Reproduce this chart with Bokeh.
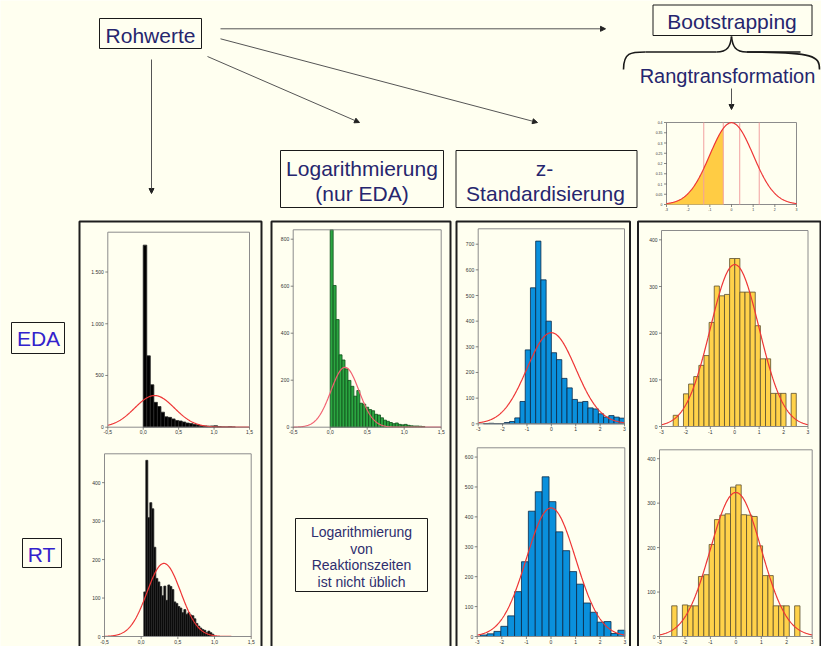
import numpy as np
from bokeh.plotting import figure
from bokeh.models import Range1d, Arrow, NormalHead
from bokeh.core.properties import value
from bokeh.embed import file_html
from bokeh.resources import INLINE

# ---------------- data ----------------
# EDA raw values (black)
eda_raw_start = 0.0
eda_raw_width = 0.05
eda_raw_counts = [1760, 690, 410, 240, 200, 145, 100, 95, 80, 65, 60, 50, 40, 35,
                  28, 22, 15, 12, 10, 12, 14, 5, 3, 2, 4, 2]
eda_raw_fit = [0.16, 0.28, 306]          # mean, sd, peak count

# EDA logarithmised (green)
eda_log_start = 0.0
eda_log_width = 0.04
eda_log_counts = [840, 603, 458, 308, 286, 248, 199, 174, 132, 156, 102, 98, 85, 75,
                  70, 55, 52, 40, 30, 25, 20, 15, 18, 12, 10, 12, 8, 6, 5, 5, 4, 3]
eda_log_fit = [0.20, 0.19, 255]

# EDA z-standardised (blue)
eda_z_start = -3.0
eda_z_width = 6 / 28
eda_z_counts = [0, 1, 2, 1, 1, 5, 9, 23, 87, 288, 530, 712, 561, 400, 277, 250, 177,
                140, 95, 84, 87, 62, 58, 39, 26, 32, 26, 22]
eda_z_fit = [0.0, 1.0, 355]

# EDA rank transformed (yellow)
eda_rank_start = -2.52
eda_rank_width = 0.21
eda_rank_counts = [24, 0, 70, 91, 107, 131, 152, 223, 301, 280, 283, 360, 360, 288,
                   288, 288, 216, 145, 145, 71, 71, 71, 0, 71]
eda_rank_fit = [0.0, 1.0, 347]

# RT raw values (black)
rt_raw_start = 0.036
rt_raw_width = 0.0273
rt_raw_counts = [116, 458, 309, 348, 332, 232, 151, 142, 130, 106, 131, 94, 134, 130,
                 122, 90, 86, 78, 74, 62, 70, 58, 62, 56, 54, 46, 34, 27, 22, 18, 16,
                 10, 14, 10, 6]
rt_raw_fit = [0.31, 0.23, 190]

# RT z-standardised (blue)
rt_z_start = -2.88
rt_z_width = 0.28
rt_z_counts = [5, 9, 17, 34, 69, 150, 250, 419, 484, 534, 451, 350, 287, 217, 175,
               112, 81, 48, 50, 10, 21]
rt_z_fit = [0.0, 1.0, 430]

# RT rank transformed (yellow)
rt_rank_start = -2.52
rt_rank_width = 0.21
rt_rank_counts = [69, 0, 71, 69, 69, 135, 139, 207, 263, 273, 276, 336, 341, 274, 273,
                  270, 204, 137, 137, 69, 69, 69, 0, 69]
rt_rank_fit = [0.0, 1.0, 324]

# schematic normal curve (rank transformation)
norm_fill_to = -0.38
norm_cut_lines = [-1.28, -0.38, 0.38, 1.28]

# tick labels
raw_xticks = [-0.5, 0.0, 0.5, 1.0, 1.5]
raw_xlabels = ["-0,5", "0,0", "0,5", "1,0", "1,5"]
z_xticks = [-3, -2, -1, 0, 1, 2, 3]
z_xlabels = ["-3", "-2", "-1", "0", "1", "2", "3"]
eda_raw_yticks = [0, 500, 1000, 1500]
eda_raw_ylabels = ["0", "500", "1.000", "1.500"]
eda_log_yticks = [0, 200, 400, 600, 800]
eda_z_yticks = [0, 100, 200, 300, 400, 500, 600, 700]
eda_rank_yticks = [0, 100, 200, 300, 400]
rt_raw_yticks = [0, 100, 200, 300, 400]
rt_z_yticks = [0, 100, 200, 300, 400, 500, 600]
rt_rank_yticks = [0, 100, 200, 300, 400]
norm_yticks = [0, 0.05, 0.1, 0.15, 0.2, 0.25, 0.3, 0.35, 0.4]
norm_ylabels = ["0", "0.05", "0.1", "0.15", "0.2", "0.25", "0.3", "0.35", "0.4"]

# ---------------- styles ----------------
BG = "#FFFFF0"
FONT = value("Liberation Sans")
NAVY = "#26266E"
RED = "#EE3535"
FRAME = "#8C8C8C"

p = figure(width=821, height=646, x_range=Range1d(0, 821), y_range=Range1d(646, 0),
           output_backend="svg", toolbar_location=None, min_border=0,
           x_axis_location=None, y_axis_location=None)
p.xgrid.visible = False
p.ygrid.visible = False
p.outline_line_color = None
p.background_fill_color = BG
p.border_fill_color = BG


def panel(box, xr, yr, start=None, width=None, counts=None, fill=None, line=None,
          fit=None, xticks=(), xlabels=(), yticks=(), ylabels=None, fs="5px",
          fit_color=RED):
    x0, x1, ybot, ytop = box
    sub = p.subplot(x_source=Range1d(*xr), y_source=Range1d(*yr),
                    x_target=Range1d(x0, x1), y_target=Range1d(ybot, ytop))
    if counts is not None:
        n = len(counts)
        edges = start + width * np.arange(n + 1)
        c = np.array(counts, dtype=float)
        keep = c > 0
        sub.quad(left=edges[:-1][keep], right=edges[1:][keep], bottom=0, top=c[keep],
                 fill_color=fill, line_color=line, line_width=0.8)
    if fit is not None:
        mu, sd, pk = fit
        xs = np.linspace(xr[0], xr[1], 300)
        sub.line(xs, pk * np.exp(-0.5 * ((xs - mu) / sd) ** 2), line_color=fit_color,
                 line_width=1.2)
    # frame
    sub.quad(left=[xr[0]], right=[xr[1]], bottom=[yr[0]], top=[yr[1]],
             fill_color=None, line_color=FRAME, line_width=1)
    sx = (x1 - x0) / (xr[1] - xr[0])
    sy = (ybot - ytop) / (yr[1] - yr[0])
    dx, dy = 2.5 / sx, 2.5 / sy
    if ylabels is None:
        ylabels = [str(t) for t in yticks]
    sub.segment(x0=[xr[0] - dx] * len(yticks), x1=[xr[0]] * len(yticks),
                y0=list(yticks), y1=list(yticks), line_color="#555", line_width=0.7)
    sub.segment(x0=list(xticks), x1=list(xticks), y0=[yr[0]] * len(xticks),
                y1=[yr[0] - dy] * len(xticks), line_color="#555", line_width=0.7)
    sub.text(x=[xr[0]] * len(yticks), y=list(yticks), text=list(ylabels), x_offset=-4,
             text_align="right", text_baseline="middle", text_font_size=fs,
             text_color="#333", text_font=FONT)
    sub.text(x=list(xticks), y=[yr[0]] * len(xticks), text=list(xlabels), y_offset=3,
             text_align="center", text_baseline="top", text_font_size=fs,
             text_color="#333", text_font=FONT)
    return sub


# ---- big column boxes ----
for l, r in [(79, 261), (271, 450), (456, 629.5), (637.5, 820)]:
    p.quad(left=[l], right=[r], top=[221], bottom=[720], fill_color=None,
           line_color="#1E1E1E", line_width=2)

# ---- histograms ----
panel((107.3, 249, 426.7, 231.7), (-0.5, 1.5), (0, 1885), eda_raw_start, eda_raw_width,
      eda_raw_counts, "black", "#2A2A2A", eda_raw_fit, raw_xticks, raw_xlabels,
      eda_raw_yticks, eda_raw_ylabels)
panel((292.7, 440.7, 426.7, 229.3), (-0.5, 1.5), (0, 840), eda_log_start, eda_log_width,
      eda_log_counts, "#2BA641", "#0F4E1A", eda_log_fit, raw_xticks, raw_xlabels,
      eda_log_yticks, fit_color="#F26070")
panel((477.7, 624, 423.3, 228.3), (-3, 3), (0, 760), eda_z_start, eda_z_width,
      eda_z_counts, "#0A90DC", "#0B2A48", eda_z_fit, z_xticks, z_xlabels, eda_z_yticks)
panel((661, 807.5, 426, 230), (-3, 3), (0, 420), eda_rank_start, eda_rank_width,
      eda_rank_counts, "#FFD24A", "#5A4E2E", eda_rank_fit, z_xticks, z_xlabels,
      eda_rank_yticks)
panel((104, 250.7, 636, 453.3), (-0.5, 1.5), (0, 475), rt_raw_start, rt_raw_width,
      rt_raw_counts, "black", "#2A2A2A", rt_raw_fit, raw_xticks, raw_xlabels,
      rt_raw_yticks)
panel((476.7, 624.3, 636, 447.3), (-3, 3), (0, 631), rt_z_start, rt_z_width,
      rt_z_counts, "#0A90DC", "#0B2A48", rt_z_fit, z_xticks, z_xlabels, rt_z_yticks)
panel((659, 811.7, 636, 449.3), (-3, 3), (0, 420), rt_rank_start, rt_rank_width,
      rt_rank_counts, "#FFD24A", "#5A4E2E", rt_rank_fit, z_xticks, z_xlabels,
      rt_rank_yticks)

# ---- schematic normal distribution ----
ns = panel((666, 796, 204, 122), (-3, 3), (0, 0.4), xticks=z_xticks, xlabels=z_xlabels,
           yticks=norm_yticks, ylabels=norm_ylabels, fs="3.5px")
xf = np.linspace(-3, norm_fill_to, 150)
ns.varea(x=xf, y1=0, y2=np.exp(-0.5 * xf ** 2) / np.sqrt(2 * np.pi),
         fill_color="#FFCC44")
ns.segment(x0=norm_cut_lines, x1=norm_cut_lines, y0=[0] * 4, y1=[0.4] * 4,
           line_color="#F2A0A0", line_width=1)
xn = np.linspace(-3, 3, 300)
ns.line(xn, np.exp(-0.5 * xn ** 2) / np.sqrt(2 * np.pi), line_color=RED, line_width=1.2)

# ---- header boxes & texts ----
def box(l, r, t, b, lw=1):
    p.quad(left=[l], right=[r], top=[t], bottom=[b], fill_color=BG,
           line_color="#1A1A1A", line_width=lw)

def label(x, y, txt, size="21px", color=NAVY):
    p.text(x=[x], y=[y], text=[txt], text_align="center", text_baseline="middle",
           text_font=FONT, text_font_size=size, text_color=color)

box(99, 201, 18, 48)
label(150, 34.5, "Rohwerte")
box(652.5, 811.5, 4.5, 35)
label(731.5, 20.5, "Bootstrapping")
label(727, 75.5, "Rangtransformation", size="20px")
box(280, 443, 150, 207)
label(361.5, 167.5, "Logarithmierung")
label(361.5, 192.5, "(nur EDA)")
box(455.5, 636.5, 150, 207)
label(544, 167.5, "z-")
label(545, 192.5, "Standardisierung")

box(11, 64, 322, 353)
label(38, 338, "EDA", color="#3322CC")
box(22, 61, 538, 567)
label(41, 553.5, "RT", color="#3322CC")

box(295, 427, 518, 591)
for yy, t in zip([531.5, 548, 564.5, 581], ["Logarithmierung", "von",
                                          "Reaktionszeiten", "ist nicht üblich"]):
    label(361, yy, t, size="14px", color="#2E2E6E")

# ---- arrows ----
for xs_, ys_, xe_, ye_ in [(220, 28.3, 605, 28.3), (220, 38.3, 537, 122),
                           (207, 56, 359, 122), (151, 59, 151, 193),
                           (731, 88, 731, 109)]:
    p.add_layout(Arrow(end=NormalHead(size=5, fill_color="#222", line_color="#222"),
                       x_start=xs_, y_start=ys_, x_end=xe_, y_end=ye_,
                       line_color="#555", line_width=1))

# ---- curly brace ----
p.bezier(x0=[623, 716, 731, 746], y0=[69, 51.5, 36, 51.5],
         x1=[645, 731, 746, 819], y1=[51.5, 36, 51.5, 69],
         cx0=[623, 727, 732, 815], cy0=[52, 51.5, 46, 51.5],
         cx1=[630, 730, 735, 819], cy1=[51.5, 46, 51.5, 56],
         line_color="#1A1A1A", line_width=1.6)
p.segment(x0=[645, 746], y0=[51.5, 51.5], x1=[716, 800], y1=[51.5, 51.5],
          line_color="#1A1A1A", line_width=1.6)

open("out.html", "w").write(file_html(p, INLINE))
